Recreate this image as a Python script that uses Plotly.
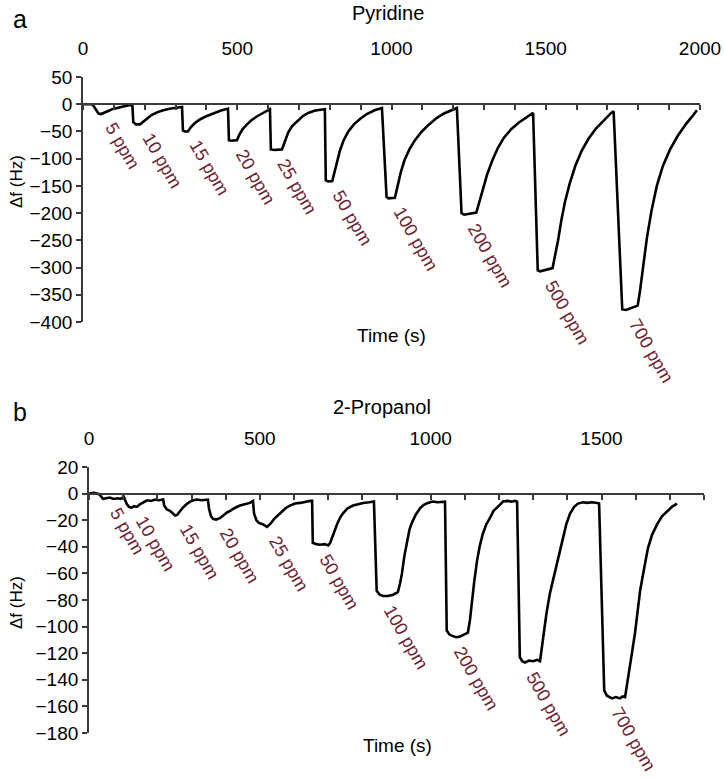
import plotly.graph_objects as go

# ---------------- data ----------------
conc_labels = ["5 ppm", "10 ppm", "15 ppm", "20 ppm", "25 ppm",
               "50 ppm", "100 ppm", "200 ppm", "500 ppm", "700 ppm"]

# Pyridine response (time s, delta f Hz)
pyr_points = [
    (0, 0), (29, 0), (35, -4), (42, -11), (50, -17), (58, -18), (68, -16), (80, -13),
    (95, -9), (112, -6), (130, -4), (150, -2), (160, -2),
    (163, -33), (172, -37), (185, -37), (195, -32), (207, -26), (222, -20), (240, -15),
    (260, -11), (285, -8), (305, -6), (321, -5),
    (324, -48), (330, -50), (340, -50), (350, -42), (362, -35), (379, -28), (400, -22),
    (420, -17), (445, -12), (470, -8),
    (473, -66), (480, -67), (499, -66), (507, -56), (517, -46), (530, -38), (545, -30),
    (562, -23), (580, -17), (595, -12), (606, -9),
    (609, -83), (620, -84), (645, -83), (655, -68), (665, -52), (678, -40), (695, -30),
    (712, -22), (730, -16), (750, -12), (770, -10), (784, -9),
    (787, -140), (795, -142), (808, -141), (815, -125), (823, -105), (833, -85), (845, -66),
    (860, -50), (878, -37), (898, -27), (920, -18), (945, -11), (969, -7),
    (984, -170), (990, -173), (1011, -172), (1020, -150), (1030, -125), (1042, -103),
    (1058, -83), (1076, -66), (1097, -51), (1120, -38), (1145, -26), (1170, -17),
    (1195, -11), (1212, -7),
    (1227, -200), (1235, -203), (1275, -199), (1285, -180), (1296, -155), (1310, -129),
    (1327, -103), (1345, -80), (1365, -61), (1388, -46), (1412, -34), (1437, -25), (1459, -16),
    (1474, -305), (1482, -307), (1522, -301), (1530, -280), (1540, -250), (1550, -215),
    (1562, -180), (1578, -145), (1596, -113), (1616, -86), (1638, -64), (1662, -45),
    (1688, -29), (1712, -16), (1720, -13),
    (1748, -377), (1760, -378), (1798, -370), (1805, -345), (1815, -300), (1828, -245),
    (1843, -195), (1860, -150), (1880, -113), (1903, -83), (1928, -58), (1955, -36),
    (1978, -20), (1990, -11),
]
pyr_onsets = [32, 162, 322, 471, 607, 785, 970, 1213, 1460, 1721]

# 2-Propanol response (time s, delta f Hz)
prop_points = [
    (0, 0), (15, 0.5), (30, -0.5), (36, -2), (41, -4), (50, -3.5), (61, -3), (72, -4),
    (85, -3.5), (92, -4), (97, -3), (102, -2.5),
    (106, -5), (111, -8), (117, -10), (124, -10.5), (132, -9.5), (140, -10), (149, -8),
    (158, -6.5), (170, -5), (182, -5.5), (193, -4.5), (205, -5), (217, -4.5),
    (220, -9), (228, -12), (237, -13), (246, -15), (252, -16.5), (258, -16), (266, -13),
    (275, -10.5), (285, -8), (296, -6), (306, -5), (316, -4.5), (330, -5), (348, -4.5),
    (351, -11), (357, -17), (363, -19), (372, -19.5), (383, -18.5), (395, -16), (405, -14),
    (413, -13), (425, -11), (442, -9), (455, -8), (471, -7), (480, -5.5),
    (483, -15), (490, -20), (497, -22), (508, -23), (521, -25), (530, -23), (542, -19),
    (559, -15), (575, -11), (588, -9), (603, -7.5), (618, -7), (632, -6), (647, -5.5), (653, -5.5),
    (655, -37), (665, -38), (676, -38.5), (690, -38), (700, -39), (706, -37), (715, -30),
    (726, -23), (735, -18), (743, -15), (757, -11), (773, -9), (788, -8), (802, -7),
    (820, -6.5), (834, -6),
    (842, -73), (851, -76), (861, -77), (875, -77), (890, -76), (904, -74), (910, -68),
    (916, -60), (923, -47), (931, -35), (938, -27), (945, -22), (956, -16), (969, -11),
    (980, -8.5), (992, -7), (1005, -6), (1020, -6.5), (1036, -6), (1042, -6),
    (1047, -103), (1055, -106), (1063, -107), (1075, -108), (1086, -107.5), (1100, -106),
    (1109, -104.5), (1115, -95), (1121, -80), (1128, -65), (1136, -50), (1144, -39),
    (1153, -30), (1163, -23), (1174, -18), (1184, -13), (1194, -10.5), (1203, -8),
    (1212, -6), (1225, -5.5), (1237, -6), (1247, -5.5), (1253, -6),
    (1261, -123), (1268, -126), (1276, -127), (1288, -125.5), (1300, -126), (1312, -125),
    (1320, -126), (1324, -118), (1329, -108), (1339, -90), (1349, -75), (1361, -62),
    (1373, -50), (1380, -41), (1387, -33), (1397, -23), (1408, -15), (1420, -10),
    (1431, -7.5), (1445, -6.5), (1458, -7), (1472, -6.5), (1487, -7), (1493, -7.5),
    (1508, -148), (1516, -152), (1531, -154), (1542, -153), (1554, -154), (1562, -152.5),
    (1569, -153), (1576, -142), (1584, -129), (1591, -117), (1598, -105), (1605, -90),
    (1613, -73), (1625, -56), (1636, -41), (1648, -31), (1663, -23), (1677, -17),
    (1692, -13), (1706, -10), (1721, -7.5),
]
prop_onsets = [35, 105, 218, 349, 481, 654, 832, 1044, 1255, 1500]

pyr_xticks = [0, 500, 1000, 1500, 2000]
pyr_yticks = [50, 0, -50, -100, -150, -200, -250, -300, -350, -400]
prop_xticks = [0, 500, 1000, 1500]
prop_yticks = [20, 0, -20, -40, -60, -80, -100, -120, -140, -160, -180]

# ---------------- layout helpers ----------------
W, H = 724, 781
FONT = "Liberation Sans, Arial, sans-serif"
LABEL_COLOR = "#6e2332"
AXIS_COLOR = "#3a3a3a"


def fx(px):
    return px / W


def fy(py):
    return 1 - py / H


panels = [
    dict(points=pyr_points, onsets=pyr_onsets, xr=[0, 2000], yr=[-400, 50],
         xticks=pyr_xticks, yticks=pyr_yticks, xpx=(83, 700), ypx=(77, 322),
         title="Pyridine", title_xy=(388, 13), letter="a", letter_xy=(20, 19),
         ytitle_xy=(16, 182), xtitle_xy=(391, 335)),
    dict(points=prop_points, onsets=prop_onsets, xr=[0, 1800], yr=[-180, 20],
         xticks=prop_xticks, yticks=prop_yticks, xpx=(89, 704), ypx=(467, 733),
         title="2-Propanol", title_xy=(382, 407), letter="b", letter_xy=(20, 412),
         ytitle_xy=(16, 603), xtitle_xy=(397, 745)),
]

fig = go.Figure()
annotations = []
layout = dict(width=W, height=H,
              margin=dict(l=0, r=0, t=0, b=0, pad=0, autoexpand=False),
              paper_bgcolor="white", plot_bgcolor="white", showlegend=False,
              font=dict(family=FONT, color="black", size=19))

for i, p in enumerate(panels):
    n = i + 1
    xa = "xaxis" if n == 1 else f"xaxis{n}"
    ya = "yaxis" if n == 1 else f"yaxis{n}"
    xref = "x" if n == 1 else f"x{n}"
    yref = "y" if n == 1 else f"y{n}"
    zx = f"xaxis{n + 2}"
    zxref = f"x{n + 2}"

    xdom = [fx(p["xpx"][0]), fx(p["xpx"][1])]
    ydom = [fy(p["ypx"][1]), fy(p["ypx"][0])]
    y0, y1 = p["yr"]
    zero_pos = ydom[0] + (0 - y0) / (y1 - y0) * (ydom[1] - ydom[0])

    t = [a for a, b in p["points"]]
    f = [b for a, b in p["points"]]
    fig.add_trace(go.Scatter(x=t, y=f, mode="lines", xaxis=xref, yaxis=yref,
                             line=dict(color="black", width=2.6), hoverinfo="skip"))
    # invisible carrier so the zero-line axis gets drawn
    fig.add_trace(go.Scatter(x=p["xr"], y=[0, 0], mode="lines", xaxis=zxref, yaxis=yref,
                             line=dict(color="rgba(0,0,0,0)", width=0), hoverinfo="skip"))

    # top axis carrying tick labels
    layout[xa] = dict(domain=xdom, range=p["xr"], anchor=yref, side="top",
                      tickvals=p["xticks"], ticks="outside", ticklen=13,
                      tickcolor="rgba(0,0,0,0)", showline=False, showgrid=False,
                      zeroline=False, tickfont=dict(size=19), automargin=False)
    layout[ya] = dict(domain=ydom, range=p["yr"], anchor=xref, tickvals=p["yticks"],
                      ticks="outside", ticklen=5, tickwidth=1.5, tickcolor=AXIS_COLOR,
                      showline=True, linecolor=AXIS_COLOR, linewidth=1.8,
                      showgrid=False, zeroline=False, tickfont=dict(size=19),
                      automargin=False)
    # horizontal axis line through zero with minor ticks
    layout[zx] = dict(domain=xdom, range=p["xr"], overlaying=xref, anchor="free",
                      position=zero_pos, side="bottom", dtick=100, tick0=0,
                      ticks="outside", ticklen=5, tickwidth=1.5, tickcolor=AXIS_COLOR,
                      showticklabels=False, showline=True, linecolor=AXIS_COLOR,
                      linewidth=1.8, showgrid=False, zeroline=False, automargin=False)

    # concentration labels at each pulse minimum
    onsets = p["onsets"] + [p["xr"][1] + 1]
    for k, lab in enumerate(conc_labels):
        seg = [(a, b) for a, b in p["points"] if onsets[k] <= a < onsets[k + 1]]
        fmin = min(b for a, b in seg)
        tstart = next(a for a, b in seg if b <= 0.9 * fmin)
        annotations.append(dict(x=tstart, y=fmin, xref=xref, yref=yref, text=lab,
                                showarrow=False, textangle=60, xanchor="left",
                                yanchor="top", yshift=-3,
                                font=dict(size=18, color=LABEL_COLOR, family=FONT)))

    annotations.append(dict(x=fx(p["title_xy"][0]), y=fy(p["title_xy"][1]), xref="paper",
                            yref="paper", text=p["title"], showarrow=False,
                            xanchor="center", yanchor="middle", font=dict(size=20)))
    annotations.append(dict(x=fx(p["letter_xy"][0]), y=fy(p["letter_xy"][1]), xref="paper",
                            yref="paper", text=p["letter"], showarrow=False,
                            xanchor="center", yanchor="middle", font=dict(size=25)))
    annotations.append(dict(x=fx(p["ytitle_xy"][0]), y=fy(p["ytitle_xy"][1]), xref="paper",
                            yref="paper", text="Δf (Hz)", showarrow=False, textangle=-90,
                            xanchor="center", yanchor="middle", font=dict(size=17)))
    annotations.append(dict(x=fx(p["xtitle_xy"][0]), y=fy(p["xtitle_xy"][1]), xref="paper",
                            yref="paper", text="Time (s)", showarrow=False,
                            xanchor="center", yanchor="middle", font=dict(size=19)))

layout["annotations"] = annotations
fig.update_layout(**layout)
# remove the browser's default 8px page margin so the figure fills the window exactly
fig.write_html("out.html", config={"displayModeBar": False},
               post_script="document.body.style.margin='0px';")
